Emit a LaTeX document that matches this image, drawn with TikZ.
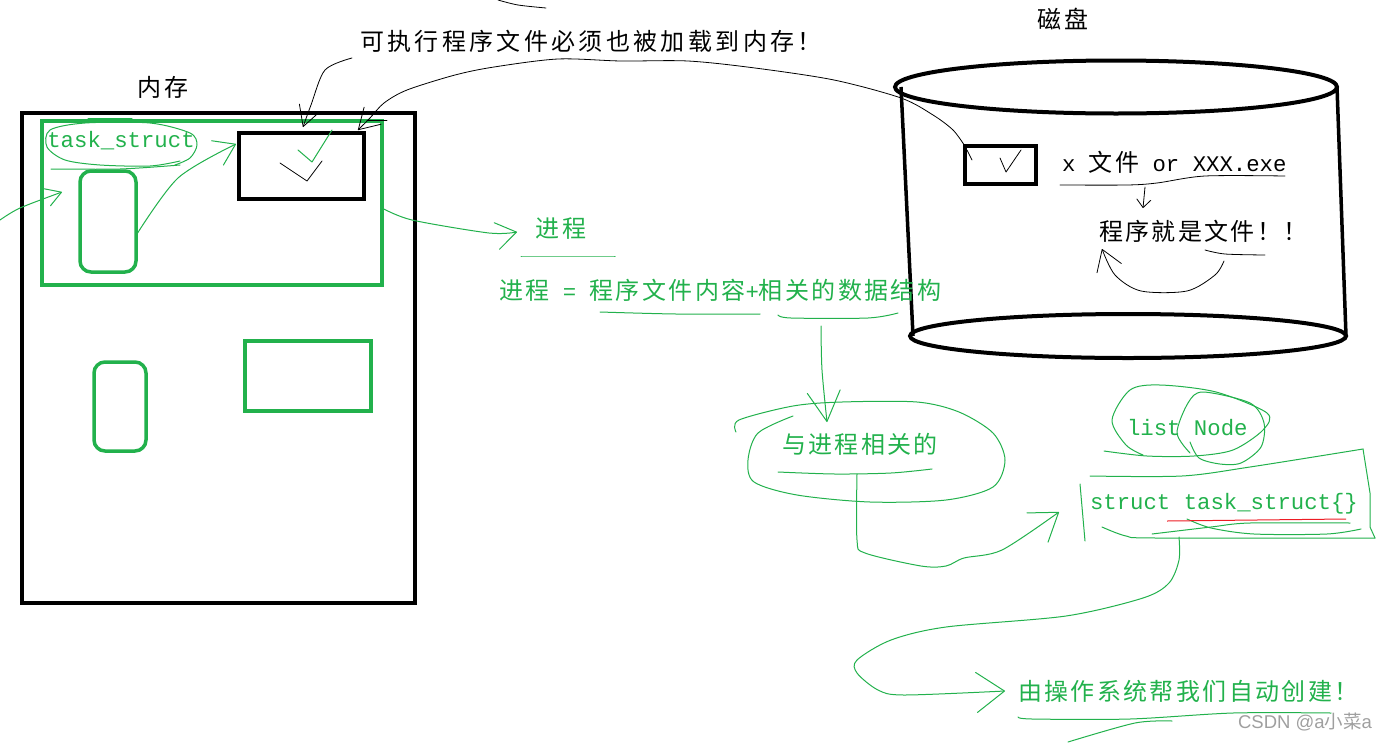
\documentclass[tikz,border=0pt]{standalone}
\usepackage{fontspec}
\setmainfont[Scale=0.93]{Liberation Mono}
\newfontfamily\cjk[LetterSpace=10]{Noto Sans CJK SC}
\newfontfamily\marksans{Liberation Sans}
\newfontfamily\markcjk{Noto Sans CJK SC}
\newcommand{\zh}[1]{{\cjk #1}}
\usetikzlibrary{arrows.meta,positioning,shapes.geometric}
\definecolor{paintgreen}{HTML}{22b14c}
\definecolor{paintred}{HTML}{ed1c24}
\tikzset{
   blackbox/.style = {draw=black, line width=4pt, rectangle, inner sep=0pt, outer sep=0pt},
   greenbox/.style = {draw=paintgreen, line width=3.5pt, rectangle, inner sep=0pt, outer sep=0pt},
 greenround/.style = {greenbox, rounded corners=11pt},
   diskedge/.style = {draw=black, line width=4pt, ellipse, inner sep=0pt, outer sep=0pt},
        lbl/.style = {font=\fontsize{24}{28}\selectfont, inner sep=0pt, outer sep=0pt},
      glbl/.style = {lbl, text=paintgreen},
        pen/.style = {draw=black, line width=.8pt, line cap=round, line join=round},
   greenpen/.style = {draw=paintgreen, line width=1pt, line cap=round, line join=round},
       head/.style 2 args = {-{Straight Barb[length=#1,width=#2,round]}},
}
\begin{document}
\begin{tikzpicture}[x=1pt,y=-1pt]
 \useasboundingbox (0,0) rectangle (1386,742);
 % memory side
 \node[blackbox,minimum width=393pt,minimum height=490pt] (mem) at (218.5,358) {};
 \node[greenbox,minimum width=340pt,minimum height=164pt,below right=8pt and 20pt of mem.north west] (proc) {};
 \node[blackbox,minimum width=125pt,minimum height=66pt] (prog) at (301.5,166) {};
 \node[greenround,minimum width=56pt,minimum height=101pt] (pcb) at (108,221.5) {};
 \node[greenround,minimum width=52pt,minimum height=89pt] (pcbtwo) at (120,406.5) {};
 \node[greenbox,minimum width=126pt,minimum height=70pt] (progtwo) at (308,376) {};
 \node[lbl] (memlabel) at (163,87) {\zh{内存}};
 \node[glbl] (tasklabel) at (121,141) {task\_struct};
 \node[lbl,anchor=west] (loadlabel) at (360,41) {\addfontfeature{LetterSpace=0}{\cjk\addfontfeature{LetterSpace=14}可执行程序文件必须也被加载到内存！}};
 % disk side
 \node[diskedge,minimum width=442pt,minimum height=53pt] (disktop) at (1116,87) {};
 \node[diskedge,minimum width=436pt,minimum height=44pt] (diskbot) at (1128,336) {};
 \draw[line width=3.5pt] ([xshift=6pt]disktop.west) -- ([xshift=3pt]diskbot.west);
 \draw[line width=3.5pt] (disktop.east) -- (diskbot.east);
 \node[blackbox,minimum width=71pt,minimum height=38pt] (file) at (1000,164.5) {};
 \node[lbl] (disklabel) at (1063,19) {\zh{磁盘}};
 \node[lbl,anchor=west] (filelabel) at (1062,162) {x \zh{文件} or XXX.exe};
 \node[lbl,anchor=west] (fileis) at (1099,231) {\zh{程序就是文件！！}};
 % green texts
 \node[glbl] (proclabel) at (561,229) {\zh{进程}};
 \node[glbl,anchor=west] (formula) at (499,290) {\zh{进程} = \zh{程序文件内容}+\zh{相关的数据结构}};
 \node[glbl,anchor=west] (related) at (782,444) {\zh{与进程相关的}};
 \node[glbl,anchor=west] (listnode) at (1127,428) {list Node};
 \node[glbl,anchor=west] (structlabel) at (1090,504) {struct task\_struct\{\}};
 \node[glbl,anchor=west] (oslabel) at (1018,691) {\zh{由操作系统帮我们自动创建！}};
 \node[text=gray!75,font=\fontsize{18.5}{22}\selectfont,inner sep=0pt] (mark) at (1305,722) {\marksans CSDN @a{\markcjk 小菜}a};
 % free ends
 \coordinate (leftin) at (0,220);
 \coordinate (loadstart) at (352,58);
 \coordinate (undertop) at (857,474);
 \coordinate (underproc) at (821,326);
 \coordinate (understruct) at (1179,537);
 \coordinate (underfile) at (1145,187);
 \coordinate (underis) at (1224,261);
 % connectors
 \draw[greenpen,head={15pt}{18pt}] plot[smooth] coordinates {(leftin) (20,208) (62,192)};
 \draw[greenpen,head={20pt}{27pt}] plot[smooth] coordinates {([yshift=-14pt]pcb.east) (178,178) (236,144)};
 \draw[pen,head={20pt}{22pt}] plot[smooth] coordinates {(loadstart) (325,70) (311,105) (303,127)};
 \draw[pen,head={20pt}{24pt}] plot[smooth] coordinates {([yshift=19pt]file.west) (953,130) (933,115) (901,98) (834,80) (755,68) (688,61) (621,61) (558,59) (494,67) (455,75) (407,90) (384,103) (370,118) (358,130)};
 \draw[greenpen,head={20pt}{27pt}] plot[smooth] coordinates {([yshift=-5pt]proc.east) (412,220) (489,233) (517,232)};
 \draw[greenpen,head={30pt}{33pt}] plot[smooth] coordinates {(underproc) (822,370) (827,422)};
 \draw[greenpen,head={26pt}{36pt}] plot[smooth] coordinates {(undertop) (857,540) (865,553) (921,566) (946,566) (964,558) (1002,550) (1059,512)};
 \draw[greenpen,head={28pt}{40pt}] plot[smooth] coordinates {(understruct) (1179,560) (1169,583) (1143,598) (1066,616) (946,627) (891,640) (857,660) (857,673) (878,690) (904,695) (1005,691)};
 \draw[pen,head={8pt}{14pt}] plot[smooth] coordinates {(underfile) (1143,208)};
 \draw[pen,head={20pt}{26pt}] plot[smooth] coordinates {(underis) (1215,275) (1187,291) (1141,291) (1115,275) (1102,249)};
 % ticks
 \draw[pen] (280,163) -- (307,181) -- (322,161);
 \draw[greenpen] (298,150) -- (312,162) -- (332,130);
 \draw[pen] (1000,158) -- (1006,172) -- (1021,150);
 \draw[pen] (967,150) -- (972,160);
 \draw[pen] (367,120) -- (387,120);
 \draw[pen] plot[smooth] coordinates {(498,0) (518,5) (546,8)};
 % underlines
 \draw[pen] plot[smooth] coordinates {(1060,185) (1127,185) (1157,183) (1205,176) (1285,176)};
 \draw[pen] plot[smooth] coordinates {(1205,250) (1225,254) (1265,255)};
 \draw[greenpen] plot[smooth] coordinates {(521,256) (615,256)};
 \draw[greenpen] plot[smooth] coordinates {(600,312) (676,314) (760,314)};
 \draw[greenpen] plot[smooth] coordinates {(778,315) (791,318) (868,318) (898,313)};
 \draw[greenpen] plot[smooth] coordinates {(778,472) (835,474) (891,473) (932,469)};
 \draw[greenpen] plot[smooth] coordinates {(1018,717) (1032,719) (1130,719) (1233,713) (1331,713)};
 \draw[greenpen] plot[smooth] coordinates {(1068,742) (1135,723) (1172,721)};
 \draw[greenpen] plot[smooth] coordinates {(51,169) (120,169) (180,165)};
 \draw[greenpen] (88,118) -- (132,118);
 % circled words
 \draw[greenpen] plot[smooth] coordinates {(180,161) (150,166) (100,165) (65,160) (47,147) (50,130) (85,123) (150,123) (190,133) (197,145) (190,158) (175,165)};
 \draw[greenpen] plot[smooth] coordinates {(736,432) (739,420) (793,406) (842,402) (917,402) (959,412) (993,433) (1005,460) (993,487) (946,500) (870,502) (797,495) (754,482) (748,460) (758,433) (793,416)};
 \draw[greenpen] plot[smooth] coordinates {(1104,451) (1147,456) (1194,456) (1233,450) (1263,430) (1267,413) (1216,392) (1160,385) (1130,390) (1112,420) (1126,445) (1143,455)};
 \draw[greenpen] plot[smooth] coordinates {(1190,442) (1199,458) (1220,464) (1241,463) (1261,447) (1264,423) (1250,403) (1203,392) (1188,403) (1177,433) (1190,453)};
 % struct box
 \draw[greenpen] (1080,484) -- (1085,541);
 \draw[greenpen] plot[smooth] coordinates {(1090,476) (1182,476) (1250,467) (1363,449)};
 \draw[greenpen] (1363,449) -- (1370,493) -- (1370,527) -- (1375,538);
 \draw[greenpen] plot[smooth] coordinates {(1102,527) (1126,536) (1156,538) (1375,538)};
 \draw[greenpen] plot[smooth] coordinates {(1152,534) (1211,527) (1250,523) (1350,523)};
 \draw[greenpen] plot[smooth] coordinates {(1187,519) (1211,528) (1254,534) (1327,534) (1361,529)};
 \draw[paintred,line width=1pt] (1167,521) -- (1346,519);
\end{tikzpicture}
\end{document}
